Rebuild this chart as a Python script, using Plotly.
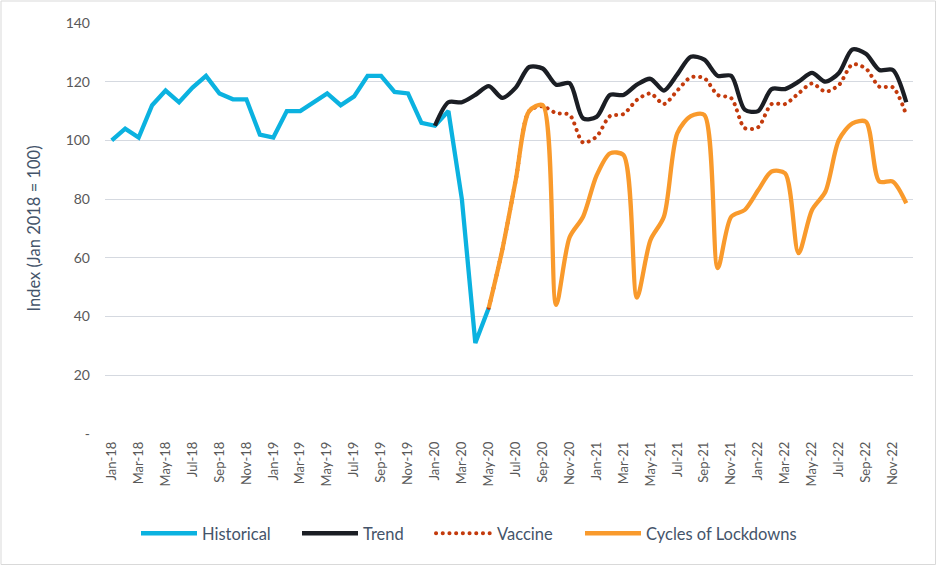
import plotly.graph_objects as go

months = ["Jan-18","Feb-18","Mar-18","Apr-18","May-18","Jun-18","Jul-18","Aug-18","Sep-18","Oct-18","Nov-18","Dec-18",
          "Jan-19","Feb-19","Mar-19","Apr-19","May-19","Jun-19","Jul-19","Aug-19","Sep-19","Oct-19","Nov-19","Dec-19",
          "Jan-20","Feb-20","Mar-20","Apr-20","May-20","Jun-20","Jul-20","Aug-20","Sep-20","Oct-20","Nov-20","Dec-20",
          "Jan-21","Feb-21","Mar-21","Apr-21","May-21","Jun-21","Jul-21","Aug-21","Sep-21","Oct-21","Nov-21","Dec-21",
          "Jan-22","Feb-22","Mar-22","Apr-22","May-22","Jun-22","Jul-22","Aug-22","Sep-22","Oct-22","Nov-22","Dec-22"]

# Historical: Jan-18 .. May-20
historical = [100, 104, 101, 112, 117, 113, 118, 122, 116, 114, 114, 102,
              101, 110, 110, 113, 116, 112, 115, 122, 122, 116.5, 116, 106,
              105, 110, 80, 31, 43]

# Trend: Jan-20 .. Dec-22
trend = [105, 113, 113, 115.5, 118.5, 114.5, 118, 125, 124.5, 119, 119.5, 107.5,
         108, 115.5, 115.5, 119, 121, 117, 122.5, 128.5, 127.5, 122, 122, 110.5,
         110, 117.5, 117.5, 120, 123, 120, 123, 131, 129.5, 124, 124, 113]

# Vaccine: May-20 .. Dec-22
vaccine = [43, 62.7, 86.5, 110, 111.6, 109.3, 108.7, 99.3,
           101.3, 108.3, 109, 113.8, 116, 112.4, 117, 121.5, 121.2, 115.5, 114.4, 104.2,
           104.5, 112.4, 112.4, 116, 119.4, 116.6, 118.9, 125.9, 124.5, 118.3, 118.1, 108.7]

# Cycles of Lockdowns: May-20 .. Dec-22
cycles = [43, 62.7, 86.5, 110, 112, 44, 67, 74,
          88, 95.6, 95, 46.5, 66, 74, 102.5, 108.3, 108.7, 56.5, 74, 76.3,
          83, 89.4, 88.8, 61.6, 76.3, 82.6, 100.2, 105.8, 106.4, 86, 86, 78.6]

y_ticks = [0, 20, 40, 60, 80, 100, 120, 140]
y_ticktext = ["-", "20", "40", "60", "80", "100", "120", "140"]

x_all = list(range(len(months)))
x_hist = x_all[:len(historical)]
x_trend = x_all[24:24 + len(trend)]
x_vac = x_all[28:28 + len(vaccine)]
x_cyc = x_all[28:28 + len(cycles)]

fig = go.Figure()
fig.add_trace(go.Scatter(x=x_hist, y=historical, mode="lines", name="Historical", legend="legend",
                         line=dict(color="#0BB2E0", width=4.3)))
fig.add_trace(go.Scatter(x=x_trend, y=trend, mode="lines", name="Trend", legend="legend2",
                         line=dict(color="#1B1E24", width=4.3, shape="spline", smoothing=0.8)))
fig.add_trace(go.Scatter(x=x_vac, y=vaccine, mode="lines", name="Vaccine", legend="legend3",
                         line=dict(color="#C33A0C", width=4, shape="spline", smoothing=0.8, dash="2px,5px")))
fig.add_trace(go.Scatter(x=x_cyc, y=cycles, mode="lines", name="Cycles of Lockdowns", legend="legend4",
                         line=dict(color="#F99A2C", width=4.3, shape="spline", smoothing=0.8)))

W, H = 937, 566
ml, mr, mt, mb = 105, 24, 23, 132
pw, ph = W - ml - mr, H - mt - mb

leg_y = -(533 - 434 - 17) / ph
def legend_at(px):
    return dict(orientation="h", x=(px - 6 - ml) / pw, xanchor="left",
                y=leg_y, yanchor="top", bgcolor="rgba(0,0,0,0)",
                font=dict(size=16.5, color="#44546A"), itemwidth=56)

fig.update_layout(
    width=W, height=H,
    margin=dict(l=ml, r=mr, t=mt, b=mb, autoexpand=False),
    paper_bgcolor="white", plot_bgcolor="white",
    font=dict(family="Lato, Open Sans, sans-serif", color="#595959", size=13),
    showlegend=True,
    legend=legend_at(142),
    legend2=legend_at(303),
    legend3=legend_at(437),
    legend4=legend_at(586),
    xaxis=dict(range=[-0.5, len(months) - 0.5], tickmode="array",
               tickvals=x_all[::2], ticktext=months[::2], tickangle=-90,
               showgrid=False, zeroline=False, showline=False, ticks="",
               ticklabelstandoff=4,
               tickfont=dict(size=13, color="#595959")),
    yaxis=dict(range=[0, 140], tickmode="array", tickvals=y_ticks, ticktext=y_ticktext,
               showgrid=True, gridcolor="#D5D9E0", gridwidth=1.3, zeroline=False,
               showline=False, ticks="", ticklabelstandoff=14,
               tickfont=dict(size=14, color="#595959"),
               title=dict(text="Index (Jan 2018 = 100)", font=dict(size=16.5, color="#44546A"),
                          standoff=20)),
    shapes=[dict(type="rect", xref="paper", yref="paper",
                 x0=-(ml - 1) / pw, x1=1 + (mr - 1.5) / pw,
                 y0=-(mb - 1.5) / ph, y1=1 + (mt - 1) / ph,
                 line=dict(color="#D9D9D9", width=1), layer="below")],
)

post = """
document.body.style.margin = '0';
document.body.style.padding = '0';
document.querySelectorAll('path.js-line').forEach(function(p){
  var d = p.style.strokeDasharray;
  if (d && d !== 'none' && d !== '') {
    p.style.strokeLinecap = 'round';
    p.style.strokeDasharray = '0.1px,6.6px';
  }
});
"""

fig.write_html("out.html", post_script=post, config={"displayModeBar": False})
